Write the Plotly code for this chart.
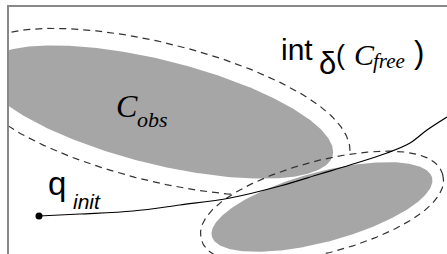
import numpy as np
import plotly.graph_objects as go

# Ellipse parameters (pixel-like coordinates, y downward)
ellipse_names = ["C_obs_large", "C_obs_small"]
ellipse_cx = [158, 322]
ellipse_cy = [112, 207]
ellipse_a = [180, 114]
ellipse_b = [52, 35]
ellipse_angle_deg = [14, -15]
ellipse_delta = [17, 11]

# Path from q_init
path_x = [39, 80, 133, 180, 230, 280, 320, 350, 387, 410, 427, 447]
path_y = [216, 214, 211, 205, 198, 186, 174, 165, 153, 143, 130, 117]

FILL = "#a6a6a6"
DASH = "#333333"


def ellipse(i, d=0.0, n=400):
    t = np.linspace(0, 2 * np.pi, n)
    a, b = ellipse_a[i], ellipse_b[i]
    px, py = a * np.cos(t), b * np.sin(t)
    nx, ny = b * np.cos(t), a * np.sin(t)
    nn = np.hypot(nx, ny)
    px = px + d * nx / nn
    py = py + d * ny / nn
    th = np.deg2rad(ellipse_angle_deg[i])
    x = ellipse_cx[i] + px * np.cos(th) - py * np.sin(th)
    y = ellipse_cy[i] + px * np.sin(th) + py * np.cos(th)
    return x, y


fig = go.Figure()

# large dashed outline
x, y = ellipse(0, ellipse_delta[0])
fig.add_trace(go.Scatter(x=x, y=y, mode="lines",
                         line=dict(color=DASH, width=1.2, dash="7px,5px")))
# white halo of small obstacle
x, y = ellipse(1, ellipse_delta[1])
fig.add_trace(go.Scatter(x=x, y=y, mode="lines", fill="toself",
                         fillcolor="white", line=dict(width=0)))
# large obstacle
x, y = ellipse(0)
fig.add_trace(go.Scatter(x=x, y=y, mode="lines", fill="toself",
                         fillcolor=FILL, line=dict(width=0)))
# small obstacle
x, y = ellipse(1)
fig.add_trace(go.Scatter(x=x, y=y, mode="lines", fill="toself",
                         fillcolor=FILL, line=dict(width=0)))
# small dashed outline
x, y = ellipse(1, ellipse_delta[1])
fig.add_trace(go.Scatter(x=x, y=y, mode="lines",
                         line=dict(color=DASH, width=1.2, dash="7px,5px")))
# path
fig.add_trace(go.Scatter(x=path_x, y=path_y, mode="lines",
                         line=dict(color="black", width=1.2, shape="spline")))
fig.add_trace(go.Scatter(x=[path_x[0]], y=[path_y[0]], mode="markers",
                         marker=dict(color="black", size=7)))

SERIF = "Liberation Serif"
SANS = "Liberation Sans"


def ann(text, x, y, size, family, italic=False, xanchor="left"):
    t = f"<i>{text}</i>" if italic else text
    fig.add_annotation(x=x, y=y, xref="x", yref="y", text=t, showarrow=False,
                       xanchor=xanchor, yanchor="middle", borderpad=0,
                       font=dict(size=size, family=family, color="black"))


ann("C", 115, 106, 32, SERIF, italic=True)
ann("obs", 136, 119, 22, SERIF, italic=True)
ann("q", 47, 183, 33, SANS)
ann("init", 72, 201, 21, SANS, italic=True)
ann("int", 280, 49, 30, SANS)
ann("δ", 318, 63, 31, SANS)
ann("(", 335, 55, 27, SANS)
ann("C", 353, 54, 30, SERIF, italic=True)
ann("free", 372, 61, 21, SERIF, italic=True)
ann(")", 413, 52, 31, SANS)

fig.update_layout(
    width=447, height=254,
    margin=dict(l=9, r=0, t=7, b=0),
    paper_bgcolor="white", plot_bgcolor="white",
    showlegend=False,
    xaxis=dict(range=[9, 447], visible=True, showgrid=False, zeroline=False,
               showticklabels=False, ticks="", side="top", showline=True,
               linecolor="#888888", linewidth=1.5, fixedrange=True),
    yaxis=dict(range=[254, 7], showgrid=False, zeroline=False,
               showticklabels=False, ticks="", showline=True,
               linecolor="#888888", linewidth=1.5, fixedrange=True),
)

fig.write_html(
    "out.html",
    config={"displayModeBar": False},
    post_script="document.body.style.margin='0';document.body.style.overflow='hidden';",
)
